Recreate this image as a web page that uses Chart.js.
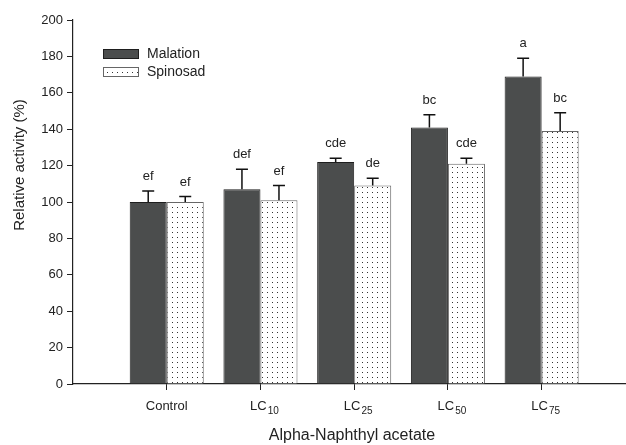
<!DOCTYPE html>
<html>
<head>
<meta charset="utf-8">
<script src="https://cdn.jsdelivr.net/npm/chart.js@4"></script>
<style>
  html, body { margin: 0; padding: 0; background: #fff; }
  #wrap { width: 626px; height: 445px; }
</style>
</head>
<body>
<div id="wrap"><canvas id="chart"></canvas></div>
<script>
// the digits after "LC" are drawn as subscripts
const categories = ['Control', 'LC10', 'LC25', 'LC50', 'LC75'];
const malation = [100, 107, 122, 141, 169];
const malationErr = [6, 11, 2, 7, 10];
const malationLetters = ['ef', 'def', 'cde', 'bc', 'a'];
const spinosad = [100, 101, 109, 121, 139];
const spinosadErr = [3, 8, 4, 3, 10];
const spinosadLetters = ['ef', 'ef', 'de', 'cde', 'bc'];
const yTicks = [0, 20, 40, 60, 80, 100, 120, 140, 160, 180, 200];

const FONT = 'Liberation Sans, Arial, sans-serif';
const INK = '#222';

// dotted fill for Spinosad
function dots() {
  const c = document.createElement('canvas');
  c.width = 5; c.height = 5;
  const g = c.getContext('2d');
  g.fillStyle = '#fff';
  g.fillRect(0, 0, 5, 5);
  g.fillStyle = '#333';
  g.fillRect(2, 2, 1, 1);
  return g.createPattern(c, 'repeat');
}

const errs = [malationErr, spinosadErr];
const letters = [malationLetters, spinosadLetters];

const extras = {
  id: 'extras',
  afterDatasetsDraw(chart) {
    const ctx = chart.ctx;
    const y = chart.scales.y;
    const x = chart.scales.x;
    ctx.save();
    chart.data.datasets.forEach((ds, di) => {
      chart.getDatasetMeta(di).data.forEach((bar, i) => {
        const top = y.getPixelForValue(ds.data[i].y + errs[di][i]);
        ctx.strokeStyle = '#111';
        ctx.lineWidth = 1.5;
        ctx.beginPath();
        ctx.moveTo(bar.x, bar.y);
        ctx.lineTo(bar.x, top);
        ctx.moveTo(bar.x - 6, top);
        ctx.lineTo(bar.x + 6, top);
        ctx.stroke();
        ctx.fillStyle = INK;
        ctx.font = '13px ' + FONT;
        ctx.textAlign = 'center';
        ctx.textBaseline = 'bottom';
        ctx.fillText(letters[di][i], bar.x, top - 8);
      });
    });

    // category labels with subscripts
    ctx.textAlign = 'left';
    ctx.textBaseline = 'alphabetic';
    ctx.fillStyle = INK;
    categories.forEach((c, i) => {
      const m = c.match(/^(\D+)(\d*)$/);
      const main = m[1], sub = m[2];
      ctx.font = '13px ' + FONT;
      const w1 = ctx.measureText(main).width;
      ctx.font = '10px ' + FONT;
      const w2 = sub ? ctx.measureText(sub).width + 1 : 0;
      const cx = x.getPixelForValue(i + 1) + (sub ? 4 : 0);
      const x0 = cx - (w1 + w2) / 2;
      ctx.font = '13px ' + FONT;
      ctx.fillText(main, x0, 410);
      if (sub) {
        ctx.font = '10px ' + FONT;
        ctx.fillText(sub, x0 + w1 + 1, 414);
      }
    });

    // legend
    ctx.font = '14px ' + FONT;
    ctx.textAlign = 'left';
    ctx.textBaseline = 'middle';
    chart.data.datasets.forEach((ds, di) => {
      const ly = 49 + di * 18;
      ctx.fillStyle = ds.backgroundColor;
      ctx.fillRect(103, ly, 36, 10);
      ctx.strokeStyle = ds.borderColor;
      ctx.lineWidth = 1;
      ctx.strokeRect(103.5, ly + 0.5, 35, 9);
      ctx.fillStyle = INK;
      ctx.fillText(ds.label, 147, ly + 5);
    });

    // axis titles
    ctx.font = '15px ' + FONT;
    ctx.textAlign = 'center';
    ctx.textBaseline = 'middle';
    ctx.save();
    ctx.translate(20, 165);
    ctx.rotate(-Math.PI / 2);
    ctx.fillText('Relative activity (%)', 0, 0);
    ctx.restore();
    ctx.font = '16px ' + FONT;
    ctx.fillText('Alpha-Naphthyl acetate', 352, 436);
    ctx.restore();
  }
};

new Chart(document.getElementById('chart'), {
  type: 'bar',
  data: {
    datasets: [
      {
        label: 'Malation',
        data: malation.map((v, i) => ({ x: i + 1, y: v })),
        backgroundColor: '#4b4d4d',
        borderColor: '#1e1e1e',
        borderWidth: 1
      },
      {
        label: 'Spinosad',
        data: spinosad.map((v, i) => ({ x: i + 1, y: v })),
        backgroundColor: dots(),
        borderColor: '#666',
        borderWidth: 1
      }
    ]
  },
  options: {
    responsive: true,
    maintainAspectRatio: false,
    animation: false,
    categoryPercentage: 0.79,
    barPercentage: 1,
    layout: { padding: { top: 20, right: 0, left: 0, bottom: 0 } },
    plugins: {
      legend: { display: false },
      tooltip: { enabled: false }
    },
    scales: {
      x: {
        type: 'linear',
        min: 0,
        max: 5.9,
        offset: false,
        afterFit(s) { s.height = 61; },
        border: { display: true, color: INK, width: 1.2 },
        grid: {
          offset: false,
          drawOnChartArea: false,
          tickLength: 6,
          color: c => (c.tick && c.tick.value === 0) ? 'rgba(0,0,0,0)' : INK
        },
        ticks: {
          stepSize: 1,
          includeBounds: false,
          color: 'rgba(0,0,0,0)',
          font: { family: FONT, size: 13 },
          callback: v => categories[v - 1] || ''
        }
      },
      y: {
        min: 0,
        max: 200,
        afterFit(s) { s.width = 73; },
        afterBuildTicks(s) { s.ticks = yTicks.map(v => ({ value: v })); },
        border: { display: true, color: INK, width: 1.2 },
        grid: { drawOnChartArea: false, tickLength: 6, color: INK },
        ticks: {
          padding: 4,
          color: INK,
          font: { family: FONT, size: 13 }
        }
      }
    }
  },
  plugins: [extras]
});
</script>
</body>
</html>
